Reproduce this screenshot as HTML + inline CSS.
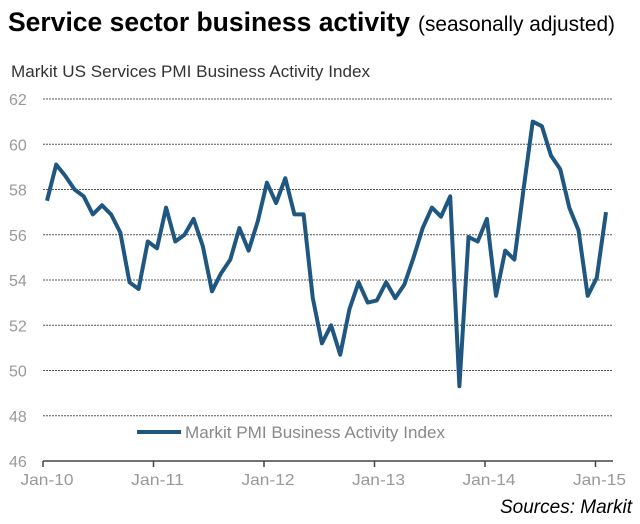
<!DOCTYPE html>
<html><head><meta charset="utf-8"><style>
body{margin:0;background:#fff;width:640px;height:519px;overflow:hidden;font-family:"Liberation Sans",sans-serif}
</style></head><body>
<svg width="640" height="519" viewBox="0 0 640 519">
<text x="8" y="31" font-size="27" font-weight="bold" fill="#000" textLength="402" lengthAdjust="spacingAndGlyphs">Service sector business activity</text>
<text x="418" y="31" font-size="21" fill="#000" textLength="197" lengthAdjust="spacingAndGlyphs">(seasonally adjusted)</text>
<text x="11" y="77" font-size="17" fill="#333" textLength="359" lengthAdjust="spacingAndGlyphs">Markit US Services PMI Business Activity Index</text>
<g id="grid"></g><g id="yl"></g><g id="xa"></g>
<path id="line" fill="none" stroke="#1f5780" stroke-width="4" stroke-linejoin="round"/>
<line x1="137" y1="432" x2="181" y2="432" stroke="#1f5780" stroke-width="4"/>
<text x="185" y="438" font-size="17" fill="#888" textLength="260" lengthAdjust="spacingAndGlyphs">Markit PMI Business Activity Index</text>
<text x="632" y="513" font-size="19" font-style="italic" fill="#000" text-anchor="end" textLength="132" lengthAdjust="spacingAndGlyphs">Sources: Markit</text>
</svg>
<script>
const values=[57.5,59.1,58.6,58.0,57.7,56.9,57.3,56.9,56.1,53.9,53.6,55.7,55.4,57.2,55.7,56.0,56.7,55.5,53.5,54.3,54.9,56.3,55.3,56.6,58.3,57.4,58.5,56.9,56.9,53.2,51.2,52.0,50.7,52.7,53.9,53.0,53.1,53.9,53.2,53.8,55.0,56.3,57.2,56.8,57.7,49.3,55.9,55.7,56.7,53.3,55.3,54.9,58.0,61.0,60.8,59.5,58.9,57.2,56.2,53.3,54.1,57.0];
const yTicks=[62,60,58,56,54,52,50,48,46];
const xLabels=["Jan-10","Jan-11","Jan-12","Jan-13","Jan-14","Jan-15"];
const NS="http://www.w3.org/2000/svg";
const y=v=>461-(v-46)*(362/16);
const x=i=>47+i*(559/(values.length-1));
const tx=k=>43+k*110.5;
const grid=document.getElementById('grid'),yl=document.getElementById('yl'),xa=document.getElementById('xa');
function mk(tag,attrs,parent){const e=document.createElementNS(NS,tag);for(const k in attrs)e.setAttribute(k,attrs[k]);parent.appendChild(e);return e;}
yTicks.forEach(v=>{
 if(v!==46){const l=mk('line',{x1:43,x2:613,y1:y(v),y2:y(v),stroke:'#555','stroke-width':1,'stroke-dasharray':'2,1'},grid);
 
 }
 const t=mk('text',{x:9,y:y(v)+6,'font-size':16,fill:'#999'},yl);t.textContent=v;
 
 
});
const ax=mk('line',{x1:43,x2:613,y1:461,y2:461,stroke:'#444','stroke-width':1.5},xa);


xLabels.forEach((s,k)=>{
 const tk=mk('line',{x1:tx(k),x2:tx(k),y1:461,y2:467,stroke:'#444','stroke-width':1.5},xa);
 
 
 const t=mk('text',{x:tx(k)+4,y:485,'font-size':16,fill:'#999','text-anchor':'middle',textLength:53,lengthAdjust:'spacingAndGlyphs'},xa);t.textContent=s;
 
 
});
document.getElementById('line').setAttribute('d',values.map((v,i)=>(i?'L':'M')+x(i).toFixed(1)+','+y(v).toFixed(1)).join(''));
</script>
</body></html>
